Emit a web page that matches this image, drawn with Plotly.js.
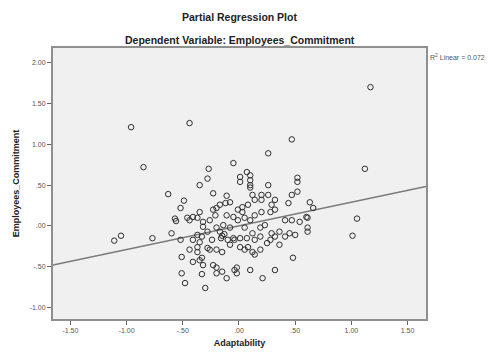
<!DOCTYPE html>
<html>
<head>
<meta charset="utf-8">
<script src="https://cdn.plot.ly/plotly-3.0.1.min.js"></script>
<style>html,body{margin:0;padding:0;background:#fff;}#chart{width:492px;height:353px;}</style>
</head>
<body>
<div id="chart"></div>
<script>
// Partial regression residuals (Adaptability vs Employees_Commitment)
var adaptability = [
  -0.96,-0.44,-0.85,1.17,1.12,0.47,0.26,-0.05,-0.27,-0.28,-0.35,-0.23,-0.63,-0.49,-0.52,-0.56,-1.05,-1.11,-0.77,-0.60,-0.52,1.05,1.01,
  0.01,0.01,0.07,0.10,0.10,0.10,0.10,0.26,0.52,0.52,0.52,0.47,0.63,0.66,0.44,0.12,0.20,0.26,0.14,0.20,0.32,0.29,0.32,0.03,0.08,0.03,-0.01,0.60,
  -0.11,-0.08,-0.12,-0.17,-0.20,-0.23,-0.35,-0.41,-0.46,-0.57,-0.44,-0.37,-0.32,-0.26,-0.11,-0.05,-0.01,0.05,0.10,0.41,0.47,0.54,0.61,0.61,0.61,0.28,
  -0.32,-0.20,-0.14,-0.08,-0.17,-0.15,-0.13,-0.16,-0.05,-0.08,-0.41,-0.37,-0.35,-0.33,-0.37,-0.28,-0.26,-0.20,-0.15,-0.44,-0.37,
  -0.04,0.01,0.07,0.12,0.14,0.19,0.25,0.29,0.32,0.36,0.41,0.45,0.50,0.28,0.08,0.12,0.14,0.01,0.48,
  -0.51,-0.41,-0.35,-0.33,-0.32,-0.23,-0.20,-0.15,-0.51,-0.48,-0.33,-0.30,-0.11,-0.04,-0.02,-0.02,0.10,0.21,0.32,-0.20,
  -0.21,0.14,0.20,0.23,0.19,0.05,-0.24,-0.10,-0.28,0.36,0.05,0.19
];
var commitment = [
  1.21,1.26,0.72,1.70,0.70,1.06,0.89,0.77,0.70,0.58,0.50,0.40,0.39,0.31,0.22,0.06,-0.12,-0.18,-0.15,-0.09,-0.17,0.09,-0.12,
  0.60,0.54,0.66,0.62,0.56,0.50,0.47,0.50,0.59,0.54,0.42,0.38,0.29,0.22,0.28,0.38,0.38,0.38,0.32,0.32,0.32,0.26,0.20,0.23,0.26,0.17,0.20,0.11,
  0.37,0.29,0.28,0.26,0.22,0.20,0.17,0.11,0.10,0.09,0.07,0.10,0.05,0.07,0.13,0.11,0.07,0.10,0.07,0.07,0.07,0.05,0.10,-0.02,-0.07,0.17,
  -0.01,-0.02,0.01,-0.02,-0.07,-0.12,-0.10,-0.15,-0.15,-0.23,-0.17,-0.11,-0.20,-0.13,-0.26,-0.27,-0.29,-0.29,-0.32,-0.29,-0.32,
  -0.17,-0.15,-0.15,-0.09,-0.17,-0.13,-0.21,-0.09,-0.13,-0.07,-0.13,-0.09,-0.11,-0.17,-0.26,-0.32,-0.35,-0.26,-0.39,
  -0.38,-0.44,-0.42,-0.39,-0.48,-0.48,-0.51,-0.56,-0.58,-0.70,-0.59,-0.76,-0.64,-0.54,-0.51,-0.58,-0.54,-0.64,-0.54,-0.58,
  0.13,0.13,0.17,0.01,-0.02,-0.02,-0.17,-0.17,-0.07,-0.23,-0.29,-0.29
];
var fitSlope = 0.29;
var fitIntercept = 0.0;
var rSquared = "0.072";
var xTickVals = [-1.5,-1.0,-0.5,0,0.5,1.0,1.5];
var xTickText = ["-1.50","-1.00","-.50",".00",".50","1.00","1.50"];
var yTickVals = [2.0,1.5,1.0,0.5,0,-0.5,-1.0];
var yTickText = ["2.00","1.50","1.00",".50",".00","-.50","-1.00"];
var xRange = [-1.655,1.664];
var yRange = [-1.14,2.18];

var fitX = [xRange[0], xRange[1]];
var fitY = fitX.map(function(v){return fitIntercept + fitSlope*v;});

var font = "Liberation Sans, Arial, sans-serif";
var data = [
  {x: fitX, y: fitY, mode:'lines', type:'scatter', line:{color:'#7a7a7a', width:1.5}, hoverinfo:'skip'},
  {x: adaptability, y: commitment, mode:'markers', type:'scatter',
   marker:{symbol:'circle-open', size:5.5, color:'#2e2e2e', line:{width:1, color:'#2e2e2e'}}}
];
var layout = {
  width:492, height:353,
  margin:{l:53, r:66, t:48, b:34},
  paper_bgcolor:'#ffffff', plot_bgcolor:'#f0f0f0',
  showlegend:false,
  font:{family:font, color:'#333'},
  xaxis:{range:xRange, tickvals:xTickVals, ticktext:xTickText, showgrid:false, zeroline:false,
    showline:true, mirror:true, linecolor:'#8f8f8f', linewidth:2,
    ticks:'outside', ticklen:4, tickcolor:'#666', tickfont:{size:7, color:'#555'},
    title:{text:'<b>Adaptability</b>', font:{size:9, color:'#222'}, standoff:6}},
  yaxis:{range:yRange, tickvals:yTickVals, ticktext:yTickText, showgrid:false, zeroline:false,
    showline:true, mirror:true, linecolor:'#8f8f8f', linewidth:2,
    ticks:'outside', ticklen:4, tickcolor:'#666', tickfont:{size:7, color:'#555'},
    title:{text:'<b>Employees_Commitment</b>', font:{size:9, color:'#222'}, standoff:8}},
  annotations:[
    {text:'<b>Partial Regression Plot</b>', xref:'paper', yref:'paper', x:0.5, y:1, yshift:31, xanchor:'center', yanchor:'middle', showarrow:false, font:{size:10.5, color:'#222'}},
    {text:'<b>Dependent Variable: Employees_Commitment</b>', xref:'paper', yref:'paper', x:0.5, y:1, yshift:8, xanchor:'center', yanchor:'middle', showarrow:false, font:{size:10.5, color:'#222'}},
    {text:'R<sup>2</sup> Linear = ' + rSquared, xref:'paper', yref:'paper', x:1, xshift:2, y:0.967, xanchor:'left', yanchor:'middle', showarrow:false, font:{size:7, color:'#555'}}
  ]
};
Plotly.newPlot('chart', data, layout, {displayModeBar:false, staticPlot:true});
</script>
</body>
</html>
